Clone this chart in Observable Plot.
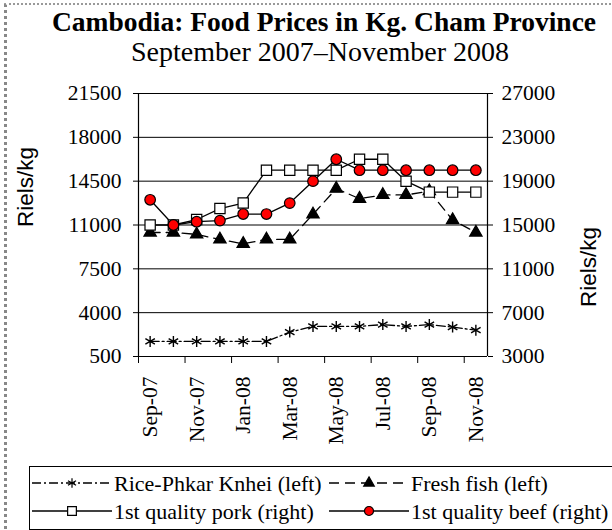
<!DOCTYPE html>
<html><head><meta charset="utf-8">
<script src="https://cdn.jsdelivr.net/npm/d3@7"></script>
<script src="https://cdn.jsdelivr.net/npm/@observablehq/plot@0.6"></script>
<style>
body{margin:0;background:#fff;}
#wrap{position:relative;width:612px;height:530px;overflow:hidden;font-family:"Liberation Serif",serif;color:#000;}
#border{position:absolute;left:4px;top:3px;width:700px;height:700px;border-left:3px dotted #888;border-top:2px dotted #999;}
#title{position:absolute;left:0;width:648px;top:8px;line-height:1;text-align:center;font-weight:bold;font-size:27.5px;white-space:nowrap;}
#subtitle{position:absolute;left:0;width:640px;top:37.5px;line-height:1;text-align:center;font-size:28px;white-space:nowrap;}
#chart{position:absolute;left:0;top:60px;}
#legend{position:absolute;left:29px;top:466px;width:600px;height:62px;border:1px solid #000;border-right:none;}
.item{position:absolute;display:flex;align-items:center;font-size:22px;line-height:25px;white-space:nowrap;}
.item svg{margin-right:2px;}
</style></head><body>
<div id="wrap">
<div id="border"></div>
<div id="title">Cambodia: Food Prices in Kg. Cham Province</div>
<div id="subtitle">September 2007–November 2008</div>
<div id="chart"></div>
<div id="legend"></div>
</div>
<script>
const months = ["Sep-07","Oct-07","Nov-07","Dec-07","Jan-08","Feb-08","Mar-08","Apr-08","May-08","Jun-08","Jul-08","Aug-08","Sep-08","Oct-08","Nov-08"];
const rice = [1700,1700,1700,1700,1700,1700,2450,2900,2900,2900,3050,2900,3050,2850,2600];
const fish = [10400,10400,10250,9850,9500,9850,9850,11850,13900,13100,13400,13400,13700,11400,10400];
const pork = [15000,15000,15500,16500,17000,20000,20000,20000,20000,21000,21000,19000,18000,18000,18000];
const beef = [17300,15000,15300,15400,16000,16000,17000,19000,21000,20000,20000,20000,20000,20000,20000];
const leftTicks = [500,4000,7500,11000,14500,18000,21500];
const rightTicks = [3000,7000,11000,15000,19000,23000,27000];
const seriesNames = ["Rice-Phkar Knhei (left)","Fresh fish (left)","1st quality pork (right)","1st quality beef (right)"];

const toLeft = v => 500 + (v - 3000) * 21000 / 24000;
const fromLeft = v => 3000 + (v - 500) * 24000 / 21000;

const series = [
  {name: seriesNames[0], values: rice, axis: "left", symbol: "asterisk", fill: "none", stroke: "#000", dash: "9,3,2,3", r: 5.2},
  {name: seriesNames[1], values: fish, axis: "left", symbol: "triangle", fill: "#000", stroke: "#000", dash: "10,6", r: 4.6},
  {name: seriesNames[2], values: pork, axis: "right", symbol: "square", fill: "#fff", stroke: "#000", dash: null, r: 5.8},
  {name: seriesNames[3], values: beef, axis: "right", symbol: "circle", fill: "#ff0000", stroke: "#000", dash: null, r: 5.3}
];
const rows = s => s.values.map((v, i) => ({x: i + 0.5, y: s.axis === "left" ? v : toLeft(v)}));

const W = 612, H = 405;
const font = "Liberation Serif";
const tickFont = 21.5;
const marks = [
  Plot.gridY(leftTicks, {stroke: "#000", strokeOpacity: 1, strokeWidth: 1}),
  Plot.ruleX([0, 15], {stroke: "#000", strokeWidth: 1.2}),
  Plot.ruleY([500], {stroke: "#000", strokeWidth: 1.2}),
  Plot.axisY(leftTicks, {anchor: "left", tickSize: 5, tickPadding: 12, tickFormat: d => String(d), label: null, fontSize: tickFont, fontFamily: font}),
  Plot.axisY(rightTicks.map(toLeft), {anchor: "right", tickSize: 5, tickPadding: 9, tickFormat: d => String(Math.round(fromLeft(d))), label: null, fontSize: tickFont, fontFamily: font}),
  Plot.axisX({ticks: d3.range(0, 15, 2), tickSize: 7, tickFormat: () => "", label: null}),
  Plot.axisX({ticks: d3.range(0, 15, 2).map(i => i + 0.5), tickSize: 0, tickPadding: 20, tickRotate: -90, tickFormat: d => months[Math.round(d - 0.5)], label: null, fontSize: tickFont, fontFamily: font}),
  Plot.text(["Riels/kg"], {frameAnchor: "left", dx: -113, dy: 2, rotate: -90, fontSize: 22.5, fontFamily: "Liberation Sans"}),
  Plot.text(["Riels/kg"], {frameAnchor: "right", dx: 101, dy: 2, rotate: -90, fontSize: 22.5, fontFamily: "Liberation Sans"})
];
for (const s of series) {
  marks.push(Plot.line(rows(s), {x: "x", y: "y", stroke: "#000", strokeWidth: 1.3, strokeDasharray: s.dash}));
}
for (const s of series) {
  marks.push(Plot.dot(rows(s), {x: "x", y: "y", symbol: s.symbol, r: s.r, fill: s.fill, stroke: s.stroke, strokeWidth: s.symbol === "asterisk" ? 1.4 : 1.2}));
}

const chart = Plot.plot({
  width: W, height: H,
  marginLeft: 138, marginRight: 612 - 487, marginTop: 33, marginBottom: H - 296,
  x: {type: "linear", domain: [0, 15]},
  y: {type: "linear", domain: [500, 21500]},
  style: {background: "transparent", overflow: "visible"},
  marks
});
document.getElementById("chart").appendChild(chart);

// legend
const legend = document.getElementById("legend");
const pos = [[2, 16], [299, 16], [2, 44], [299, 44]];
series.forEach((s, k) => {
  const item = document.createElement("div");
  item.className = "item";
  item.style.left = pos[k][0] + "px";
  item.style.top = (pos[k][1] - 12.5) + "px";
  const w = 80, h = 24;
  const svg = d3.create("svg").attr("width", w).attr("height", h);
  svg.append("line").attr("x1", 0).attr("x2", w).attr("y1", h/2).attr("y2", h/2)
    .attr("stroke", "#000").attr("stroke-width", 1.3).attr("stroke-dasharray", s.dash);
  const symType = {asterisk: d3.symbolAsterisk, triangle: d3.symbolTriangle, square: d3.symbolSquare, circle: d3.symbolCircle}[s.symbol];
  const rr = s.r * 0.85;
  svg.append("path").attr("d", d3.symbol(symType, Math.PI * rr * rr)())
    .attr("transform", `translate(${w/2},${h/2})`)
    .attr("fill", s.fill).attr("stroke", s.stroke).attr("stroke-width", 1.2);
  item.appendChild(svg.node());
  const t = document.createElement("span");
  t.textContent = s.name;
  item.appendChild(t);
  legend.appendChild(item);
});
</script>
</body></html>
